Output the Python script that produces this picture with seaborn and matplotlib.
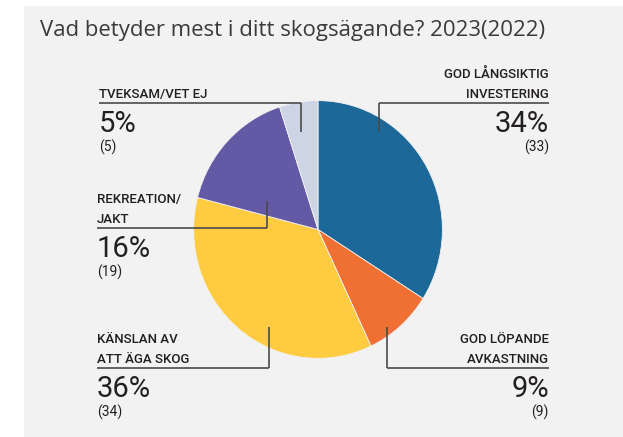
import matplotlib
matplotlib.use("Agg")
import matplotlib.pyplot as plt
import seaborn as sns
from matplotlib import font_manager
from matplotlib.patches import Rectangle

# ---- data ----
title = "Vad betyder mest i ditt skogsägande? 2023(2022)"
categories = ["GOD LÅNGSIKTIG\nINVESTERING", "GOD LÖPANDE\nAVKASTNING",
              "KÄNSLAN AV\nATT ÄGA SKOG", "REKREATION/\nJAKT", "TVEKSAM/VET EJ"]
values_2023 = [34, 9, 36, 16, 5]
values_2022 = [33, 9, 34, 19, 5]
colors = ["#1c6899", "#f07033", "#fecb41", "#6359a4", "#cdd4e4"]

# ---- layout (pixel coordinates) ----
# per label: vertical-leader x, inner end y, horizontal line y, text x, alignment
leaders = [
    (379, 132, 103, 549, "right"),
    (387, 327, 368, 549, "right"),
    (269, 327, 368, 97, "left"),
    (267, 201, 228, 97, "left"),
    (301, 132, 103, 99, "left"),
]

sns.set_style("white")
avail = {f.name for f in font_manager.fontManager.ttflist}
cond = "Liberation Sans Narrow" if "Liberation Sans Narrow" in avail else "Roboto"
title_font = "Open Sans" if "Open Sans" in avail else "DejaVu Sans"

W, H = 623, 437
fig = plt.figure(figsize=(W / 100, H / 100), dpi=100)
fig.patch.set_facecolor("white")

# background panel
bg = fig.add_axes([0, 0, 1, 1], zorder=0)
bg.set_xlim(0, W); bg.set_ylim(H, 0); bg.axis("off")
bg.add_patch(Rectangle((24, 6), W - 24, H - 6, facecolor="#f2f2f2", edgecolor="none"))

# pie
px0, px1, py0, py1 = 193, 443, 100, 359
pax = fig.add_axes([px0 / W, (H - py1) / H, (px1 - px0) / W, (py1 - py0) / H], zorder=1)
palette = sns.color_palette(colors)
pax.pie(values_2023, colors=palette, startangle=90, counterclock=False, radius=1,
        wedgeprops=dict(linewidth=0.6, edgecolor="#f2f2f2"), frame=True)
pax.set_aspect("auto")
pax.set_xlim(-1.005, 1.005); pax.set_ylim(-1.005, 1.005)
pax.axis("off")

# overlay for leaders and labels
ov = fig.add_axes([0, 0, 1, 1], zorder=2)
ov.set_xlim(0, W); ov.set_ylim(H, 0); ov.axis("off")
ov.patch.set_alpha(0)

lc = "#4a4a4a"
tc = "#231f20"
for cat, v23, v22, (vx, vy, hy, tx, ha) in zip(categories, values_2023, values_2022, leaders):
    ov.plot([vx, vx], [vy, hy], color=lc, lw=1.2, solid_capstyle="butt")
    ov.plot([tx, vx], [hy, hy], color=lc, lw=1.2, solid_capstyle="butt")
    lines = cat.split("\n")
    for i, ln in enumerate(reversed(lines)):
        ov.text(tx, hy - 5 - i * 20, ln, ha=ha, va="baseline", fontsize=9.5,
                family=cond, weight="medium", color=tc)
    ov.text(tx, hy + 29, f"{v23}%", ha=ha, va="baseline", fontsize=21,
            family=cond, color=tc)
    ov.text(tx, hy + 49, f"({v22})", ha=ha, va="baseline", fontsize=10,
            family=cond, color=tc)

ov.text(40, 36, title, ha="left", va="baseline", fontsize=15.9, family=title_font,
        color="#3a3a3a")

fig.savefig("out.png", dpi=100)
